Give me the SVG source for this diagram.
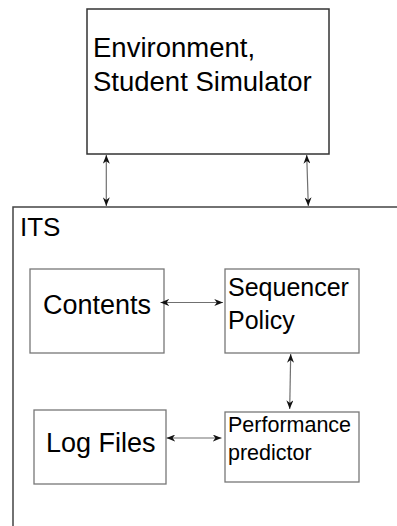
<svg xmlns="http://www.w3.org/2000/svg" width="397" height="526" viewBox="0 0 397 526">
  <defs>
    <style>
      .box { fill: #ffffff; stroke: #777777; stroke-width: 1.3; }
      .outer { fill: #ffffff; stroke: #333333; stroke-width: 1.5; }
      .frame { fill: none; stroke: #444444; stroke-width: 1.5; }
      .link { fill: none; stroke: #707070; stroke-width: 1.2; marker-start: url(#tip); marker-end: url(#tip); }
      text { font-family: "Liberation Sans", Arial, sans-serif; fill: #000000; }
    </style>
    <marker id="tip" viewBox="0 0 10 8" refX="10" refY="4" markerWidth="9" markerHeight="7" markerUnits="userSpaceOnUse" orient="auto-start-reverse">
      <path d="M0,0 L10,4 L0,8 L3,4 Z" fill="#111111"/>
    </marker>
  </defs>

  <rect width="397" height="526" fill="#ffffff"/>

  <!-- ITS container: only the top and left edges fall inside the canvas -->
  <g id="its">
    <path class="frame" d="M13,526 V207 H397"/>
    <text x="20" y="236" font-size="26">ITS</text>
  </g>

  <g id="environment">
    <rect class="outer" x="87" y="9" width="242" height="145"/>
    <text x="93" y="57" font-size="27.5">Environment,</text>
    <text x="93" y="91" font-size="27.5">Student Simulator</text>
  </g>

  <g id="contents">
    <rect class="box" x="30" y="269" width="134" height="84"/>
    <text x="43" y="314" font-size="27">Contents</text>
  </g>

  <g id="sequencer">
    <rect class="box" x="225" y="269" width="134" height="84"/>
    <text x="228" y="296" font-size="25">Sequencer</text>
    <text x="228" y="329" font-size="25">Policy</text>
  </g>

  <g id="logfiles">
    <rect class="box" x="34" y="410" width="132" height="74"/>
    <text x="46" y="452" font-size="27">Log Files</text>
  </g>

  <g id="predictor">
    <rect class="box" x="225" y="412" width="134" height="70"/>
    <text x="228" y="432" font-size="21.5">Performance</text>
    <text x="228" y="460" font-size="21.5">predictor</text>
  </g>

  <g id="connectors">
    <line class="link" x1="106.3" y1="155" x2="106.3" y2="206"/>
    <line class="link" x1="306.7" y1="155" x2="308.3" y2="206"/>
    <line class="link" x1="160.5" y1="302.5" x2="223" y2="302.5"/>
    <line class="link" x1="290.7" y1="354" x2="289.7" y2="409"/>
    <line class="link" x1="166.5" y1="438" x2="221.5" y2="438"/>
  </g>
</svg>
